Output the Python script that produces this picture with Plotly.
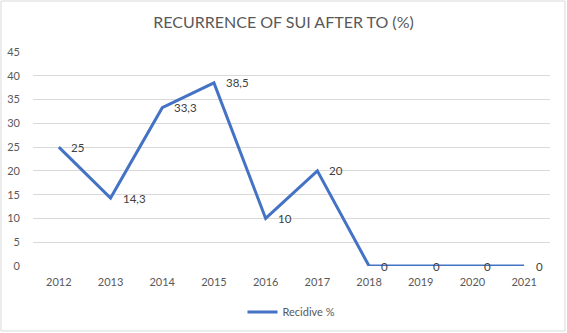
import plotly.graph_objects as go

years = ["2012", "2013", "2014", "2015", "2016", "2017", "2018", "2019", "2020", "2021"]
recidive = [25, 14.3, 33.3, 38.5, 10, 20, 0, 0, 0, 0]
labels = [("%g" % v).replace(".", ",") for v in recidive]

W, H = 567, 333
ml, mr, mt, mb = 33, 17, 52, 67
pw, ph = W - ml - mr, H - mt - mb

fig = go.Figure()
fig.add_trace(go.Scatter(
    x=years, y=recidive, mode="lines", name="Recidive %",
    line=dict(color="#4472C4", width=3),
))

# value labels placed just to the right of each point (category index on x)
for i, (v, t) in enumerate(zip(recidive, labels)):
    fig.add_annotation(x=i, y=v, text=t, showarrow=False,
                       xanchor="left", yanchor="middle", xshift=10,
                       font=dict(family="Lato", size=11.5, color="#404040"))

fig.update_layout(
    width=W, height=H,
    margin=dict(l=ml, r=mr, t=mt, b=mb, autoexpand=False),
    paper_bgcolor="white", plot_bgcolor="white",
    title=dict(text="RECURRENCE OF SUI AFTER TO (%)", x=0.5, xanchor="center",
               y=1 - 22 / H, yanchor="middle",
               font=dict(family="Lato", size=16, color="#595959")),
    font=dict(family="Lato", size=11, color="#595959"),
    xaxis=dict(type="category", categoryorder="array", categoryarray=years,
               range=[-0.5, len(years) - 0.5],
               showgrid=False, zeroline=False, showline=False,
               ticks="", ticklabelstandoff=8, fixedrange=True),
    yaxis=dict(range=[0, 45], dtick=5, showgrid=True, gridcolor="#d9d9d9",
               gridwidth=1, zeroline=False, showline=False, ticks="",
               ticklabelstandoff=12, fixedrange=True),
    showlegend=True,
    legend=dict(orientation="h", x=0.5, xanchor="center",
                yref="container", y=1 - 312 / H, yanchor="middle",
                font=dict(family="Lato", size=11, color="#595959")),
    shapes=[dict(type="rect", xref="paper", yref="paper",
                 x0=(1 - ml) / pw, x1=(W - 2 - ml) / pw,
                 y0=-(H - 2 - mt - ph) / ph, y1=1 + (mt - 1) / ph,
                 line=dict(color="#d9d9d9", width=1))],
)

fig.write_html("out.html")
